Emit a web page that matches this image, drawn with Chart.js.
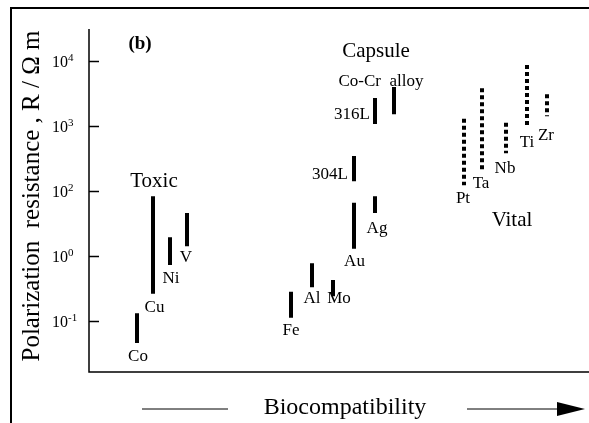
<!DOCTYPE html>
<html>
<head>
<meta charset="utf-8">
<script src="https://cdn.jsdelivr.net/npm/chart.js@4.4.0/dist/chart.umd.min.js"></script>
<style>
  body { margin: 0; background: #fff; }
  #c { display: block; }
</style>
</head>
<body>
<canvas id="c" width="589" height="423"></canvas>
<script>
// metal names, in order along the biocompatibility axis
var metals   = ['Co', 'Cu', 'Ni', 'V', 'Fe', 'Al', 'Mo', 'Au', 'Ag', '304L', '316L', 'Co-Cr  alloy', 'Pt', 'Ta', 'Nb', 'Ti', 'Zr'];
// group of each metal: toxic / capsule / vital
var groups   = ['toxic', 'toxic', 'toxic', 'toxic', 'capsule', 'capsule', 'capsule', 'capsule', 'capsule', 'capsule', 'capsule', 'capsule', 'vital', 'vital', 'vital', 'vital', 'vital'];
// position along biocompatibility axis
var biocomp  = [48, 64, 81, 98, 202, 223, 244, 265, 286, 265, 286, 305, 375, 393, 417, 438, 458];
// polarization resistance range, in decade steps of the axis (0 = the "10^0" tick)
var rLow     = [-1.34, -0.58, -0.14, 0.15, -0.95, -0.48, -0.62, 0.11, 0.66, 1.15, 2.03, 2.18, 1.09, 1.29, 1.58, 1.98, 2.15];
var rHigh    = [-0.88, 0.92, 0.29, 0.66, -0.55, -0.11, -0.37, 0.82, 0.92, 1.54, 2.43, 2.60, 2.11, 2.58, 2.05, 2.94, 2.49];
// where each metal name sits
var nameX    = [49, 65.5, 82, 97, 202, 223, 250, 265.5, 288, 241, 263, 292, 374, 392, 416, 438, 457];
var nameY    = [-1.54, -0.79, -0.34, -0.03, -1.15, -0.66, -0.66, -0.09, 0.42, 1.26, 2.17, 2.69, 0.89, 1.11, 1.34, 1.74, 1.85];

// y tick positions and their printed labels
var tickPos  = [-1, 0, 1, 2, 3];
var tickExp  = ['-1', '0', '2', '3', '4'];

// group captions
var groupNames = ['Toxic', 'Capsule', 'Vital'];
var groupX     = [65, 287, 423];
var groupY     = [1.14, 3.15, 0.54];

var SERIF = '"Liberation Serif", "Times New Roman", serif';

var datasets = metals.map(function(m, i){
    var vital = groups[i] === 'vital';
    return {
        label: m,
        data: [{x: biocomp[i], y: rHigh[i]}, {x: biocomp[i], y: rLow[i]}],
        borderColor: '#000',
        borderWidth: 4,
        borderCapStyle: 'butt',
        borderDash: vital ? [4, 3] : [],
        pointRadius: 0,
        fill: false
    };
});

var decor = {
    id: 'decor',
    afterDraw: function(chart){
        var ctx = chart.ctx;
        var xs = chart.scales.x, ys = chart.scales.y;
        var a = chart.chartArea;
        ctx.save();
        ctx.fillStyle = '#000';
        ctx.strokeStyle = '#000';

        // outer frame (top and left)
        ctx.lineWidth = 2;
        ctx.beginPath();
        ctx.moveTo(11, 423); ctx.lineTo(11, 8); ctx.lineTo(589, 8);
        ctx.stroke();

        // axes
        ctx.lineWidth = 1.5;
        ctx.beginPath();
        ctx.moveTo(a.left, a.top); ctx.lineTo(a.left, a.bottom); ctx.lineTo(a.right, a.bottom);
        ctx.stroke();

        // y ticks (inward) and labels
        tickPos.forEach(function(t, i){
            var py = Math.round(ys.getPixelForValue(t)) + 0.5;
            ctx.beginPath();
            ctx.moveTo(a.left, py); ctx.lineTo(a.left + 10, py);
            ctx.stroke();
            ctx.textBaseline = 'middle';
            ctx.textAlign = 'left';
            ctx.font = '16px ' + SERIF;
            ctx.fillText('10', 52, py + 1);
            var w = ctx.measureText('10').width;
            ctx.font = '11px ' + SERIF;
            ctx.fillText(tickExp[i], 52 + w, py - 3);
        });

        // y title
        ctx.save();
        ctx.translate(32, 196);
        ctx.rotate(-Math.PI / 2);
        ctx.font = '25px ' + SERIF;
        ctx.textAlign = 'center';
        ctx.textBaseline = 'middle';
        ctx.fillText('Polarization  resistance , R / \u03A9 m', 0, 0);
        ctx.restore();

        // panel tag
        ctx.font = 'bold 19px ' + SERIF;
        ctx.textAlign = 'center';
        ctx.textBaseline = 'middle';
        ctx.fillText('(b)', xs.getPixelForValue(51), ys.getPixelForValue(3.26));

        // metal names
        ctx.font = '17px ' + SERIF;
        metals.forEach(function(m, i){
            ctx.fillText(m, xs.getPixelForValue(nameX[i]), ys.getPixelForValue(nameY[i]));
        });

        // group captions
        ctx.font = '21px ' + SERIF;
        groupNames.forEach(function(g, i){
            ctx.fillText(g, xs.getPixelForValue(groupX[i]), ys.getPixelForValue(groupY[i]));
        });

        // biocompatibility arrow under the axis
        var yb = 409;
        ctx.font = '24px ' + SERIF;
        ctx.fillText('Biocompatibility', 345, yb - 1);
        ctx.lineWidth = 1;
        ctx.beginPath();
        ctx.moveTo(142, yb); ctx.lineTo(228, yb);
        ctx.moveTo(467, yb); ctx.lineTo(560, yb);
        ctx.stroke();
        ctx.beginPath();
        ctx.moveTo(557, yb - 7); ctx.lineTo(585, yb); ctx.lineTo(557, yb + 7);
        ctx.closePath();
        ctx.fill();

        ctx.restore();
    }
};

new Chart(document.getElementById('c').getContext('2d'), {
    type: 'line',
    data: { datasets: datasets },
    options: {
        responsive: false,
        animation: false,
        devicePixelRatio: 1,
        layout: { padding: { left: 89, top: 29, right: 0, bottom: 51 } },
        plugins: { legend: { display: false }, tooltip: { enabled: false } },
        scales: {
            x: { type: 'linear', display: false, min: 0, max: 500 },
            y: { type: 'linear', display: false, min: -1.785, max: 3.492 }
        }
    },
    plugins: [decor]
});
</script>
</body>
</html>
